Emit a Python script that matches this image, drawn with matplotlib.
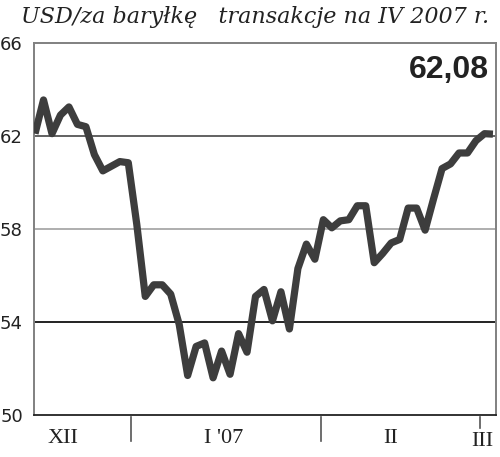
import matplotlib
matplotlib.use("Agg")
import matplotlib.pyplot as plt
import matplotlib.transforms as mtransforms

# ceny ropy, USD za baryłkę (kolejne sesje, XII 2006 - III 2007)
prices = [
    62.1, 63.55, 62.1, 62.9, 63.25, 62.5, 62.4, 61.2, 60.5, 60.7,
    60.9, 60.85, 58.2, 55.1, 55.6, 55.6, 55.2, 53.9, 51.7, 52.95,
    53.1, 51.6, 52.75, 51.75, 53.5, 52.7, 55.1, 55.4, 54.05, 55.3,
    53.7, 56.3, 57.35, 56.7, 58.4, 58.05, 58.35, 58.4, 59.0, 59.0,
    56.55, 56.95, 57.4, 57.55, 58.9, 58.9, 57.95, 59.3, 60.6, 60.8,
    61.27, 61.27, 61.8, 62.1, 62.08,
]
days = list(range(len(prices)))

y_ticks = [50, 54, 58, 62, 66]
month_breaks = [11.32, 33.73, 52.48]
month_labels = ["XII", "I '07", "II", "III"]
month_label_pos = [3.3, 22.2, 41.9, 52.8]
last_value = "62,08"
title = "USD/za baryłkę   transakcje na IV 2007 r."

fig = plt.figure(figsize=(5.0, 4.57), dpi=100)
ax = fig.add_axes([34 / 500, 1 - 415 / 457, (496 - 34) / 500, (415 - 43) / 457])

ax.set_xlim(-0.12, 54.36)
ax.set_ylim(50, 66)

# linie siatki
grid_colors = {54: "#111111", 58: "#a8a8a8", 62: "#555555"}
for val, col in grid_colors.items():
    ax.axhline(val, color=col, lw=1.3, zorder=1)

ax.plot(days, prices, color="#3d3d3d", lw=5.2, solid_joinstyle="round",
        solid_capstyle="butt", zorder=3)

for side in ["left", "top", "right"]:
    ax.spines[side].set_color("#808080")
    ax.spines[side].set_linewidth(1.4)
ax.spines["bottom"].set_color("#222222")
ax.spines["bottom"].set_linewidth(1.3)

ax.set_yticks(y_ticks)
ax.set_yticklabels([str(v) for v in y_ticks], fontsize=13, family="DejaVu Sans",
                   color="#222222")
ax.tick_params(axis="y", length=0, pad=8)
ax.set_xticks([])

trans = mtransforms.blended_transform_factory(ax.transData, ax.transAxes)
# kreski oddzielające miesiące (ostatnia krótsza, nad "III")
tick_ends = [-0.07, -0.07, -0.035]
for xb, yend in zip(month_breaks, tick_ends):
    ax.plot([xb, xb], [-0.006, yend], color="#555555", lw=1.2,
            transform=trans, clip_on=False)
label_y = [-0.062, -0.062, -0.062, -0.071]
for xl, yl, lab in zip(month_label_pos, label_y, month_labels):
    ax.text(xl, yl, lab, transform=trans, ha="center", va="center",
            fontsize=16, family="Liberation Serif", color="#222222")

ax.text(0.985, 0.928, last_value, transform=ax.transAxes, ha="right", va="center",
        fontsize=23, fontweight="bold", family="Liberation Sans", color="#222222")

fig.text(489 / 500, 1 - 17 / 457, title, ha="right", va="center",
         fontsize=16, style="italic", family="DejaVu Serif", color="#222222")

fig.savefig("out.png", dpi=100)
